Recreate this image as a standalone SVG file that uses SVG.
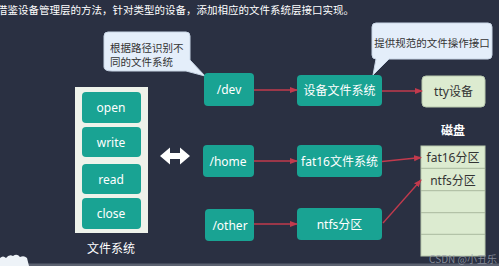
<svg xmlns="http://www.w3.org/2000/svg" width="499" height="266" viewBox="0 0 499 266">
<defs>
<marker id="ah" markerWidth="8" markerHeight="8" refX="7" refY="4" orient="auto" markerUnits="userSpaceOnUse">
<path d="M0,1 L8,4 L0,7 Z" fill="#c23a4d"/>
</marker>
<style>
.teal{fill:#19a393;}
.wt{fill:#ffffff;font-family:"Noto Sans","Noto Sans CJK SC",sans-serif;font-size:12px;text-anchor:middle;dominant-baseline:central;}
.dk{fill:#333333;font-family:"Noto Sans","Noto Sans CJK SC",sans-serif;font-size:12px;text-anchor:middle;dominant-baseline:central;}
.cl{fill:#333333;font-family:"Noto Sans CJK SC",sans-serif;font-size:10.5px;dominant-baseline:central;}
.bub{fill:#e4eefa;stroke:#c9d6e6;stroke-width:1;}
.green{fill:#dcebd0;stroke:#b9c9ad;stroke-width:1;}
.con{stroke:#c23a4d;stroke-width:1.3;fill:none;marker-end:url(#ah);}
</style>
</defs>
<rect x="0" y="0" width="499" height="266" fill="#2a3042"/>
<rect x="0" y="263.5" width="499" height="2.5" fill="#5b6170"/>
<path d="M0,266 L0,258 Q3,255 6,258 Q9,254 13,256 Q17,253 20,257 Q24,255 27,258 L29,266 Z" fill="#eef3f8"/>
<text x="-3" y="9" fill="#ffffff" font-family="Noto Sans CJK SC, sans-serif" font-size="10.5" dominant-baseline="central">借鉴设备管理层的方法，针对类型的设备，添加相应的文件系统层接口实现。</text>

<g id="callout1">
<path class="bub" d="M108,32 L186,32 Q190,32 190,36 L190,60 L205,76 L186,71 L112,71 Q104,71 104,67 L104,36 Q104,32 108,32 Z"/>
<text class="cl" x="110" y="47">根据路径识别不</text>
<text class="cl" x="110" y="61.5">同的文件系统</text>
</g>
<g id="callout2">
<path class="bub" d="M376,23 L488,23 Q492,23 492,27 L492,55 Q492,59 488,59 L389,59 L373,75 L376,59 Q372,59 372,55 L372,27 Q372,23 376,23 Z"/>
<text class="cl" x="432" y="42" text-anchor="middle">提供规范的文件操作接口</text>
</g>

<g id="filesystem">
<rect x="75" y="87" width="73" height="146" fill="#eef2ea"/>
<g id="open"><rect class="teal" x="82" y="92" width="59" height="31" rx="4"/><text class="wt" x="111" y="107">open</text></g>
<g id="write"><rect class="teal" x="82" y="127" width="59" height="30" rx="4"/><text class="wt" x="111" y="142">write</text></g>
<g id="read"><rect class="teal" x="82" y="164" width="59" height="30" rx="4"/><text class="wt" x="111" y="179">read</text></g>
<g id="close"><rect class="teal" x="82" y="198" width="59" height="31" rx="4"/><text class="wt" x="111" y="213">close</text></g>
<text class="wt" x="111" y="248">文件系统</text>
</g>

<g id="dblarrow">
<path d="M160,156 L170,147.5 L170,153 L180,153 L180,147.5 L190,156 L180,164.5 L180,159 L170,159 L170,164.5 Z" fill="#ffffff"/>
</g>

<g id="dev"><rect class="teal" x="204" y="73" width="50" height="33" rx="4"/><text class="wt" x="229" y="89">/dev</text></g>
<g id="home"><rect class="teal" x="203" y="145" width="51" height="32" rx="4"/><text class="wt" x="228" y="161">/home</text></g>
<g id="other"><rect class="teal" x="205" y="209" width="49" height="32" rx="4"/><text class="wt" x="230" y="225">/other</text></g>

<g id="devfs"><rect class="teal" x="297" y="75" width="85" height="31" rx="4"/><text class="wt" x="339.5" y="90">设备文件系统</text></g>
<g id="fat16fs"><rect class="teal" x="297" y="145" width="85" height="32" rx="4"/><text class="wt" x="339.5" y="161">fat16文件系统</text></g>
<g id="ntfs"><rect class="teal" x="297" y="208" width="85" height="32" rx="4"/><text class="wt" x="339.5" y="224">ntfs分区</text></g>

<g id="tty"><rect class="green" x="422" y="76" width="63" height="31" rx="4"/><text class="dk" x="453.5" y="91">tty设备</text></g>

<g id="disk">
<text class="wt" x="453" y="130" font-size="11" font-weight="bold">磁盘</text>
<rect class="green" x="421" y="146" width="64" height="110"/>
<g stroke="#a9b99e" stroke-width="1">
<line x1="421" y1="168.3" x2="485" y2="168.3"/>
<line x1="421" y1="190.7" x2="485" y2="190.7"/>
<line x1="421" y1="212.7" x2="485" y2="212.7"/>
<line x1="421" y1="234.3" x2="485" y2="234.3"/>
</g>
<text class="dk" x="453" y="157.5">fat16分区</text>
<text class="dk" x="453" y="180">ntfs分区</text>
</g>

<g id="connectors">
<line class="con" x1="254" y1="90" x2="297" y2="90"/>
<line class="con" x1="382" y1="91" x2="422" y2="91"/>
<line class="con" x1="254" y1="161" x2="297" y2="161"/>
<line class="con" x1="382" y1="161.5" x2="421" y2="157.5"/>
<line class="con" x1="254" y1="224" x2="297" y2="224"/>
<line class="con" x1="383" y1="223" x2="421" y2="180"/>
</g>

<text x="497" y="258" fill="#9aa0ad" fill-opacity="0.8" font-family="Noto Sans CJK SC, sans-serif" font-size="10" text-anchor="end" dominant-baseline="central">CSDN @小丑乐</text>
</svg>
